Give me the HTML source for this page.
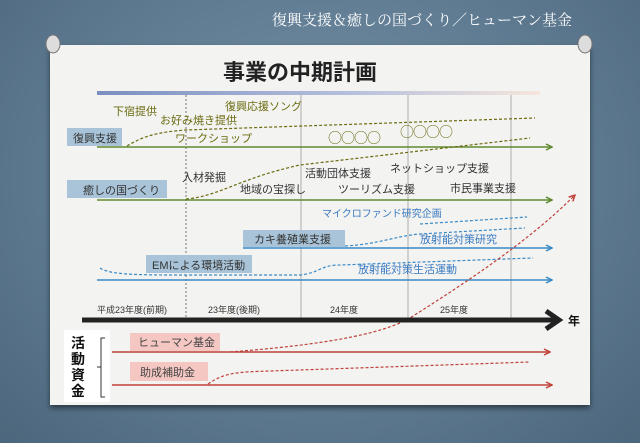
<!DOCTYPE html>
<html><head><meta charset="utf-8"><style>
html,body{margin:0;padding:0;}
body{width:640px;height:443px;overflow:hidden;background:radial-gradient(ellipse at 50% 40%,#7590a6 0%,#5f7b92 55%,#4c667c 100%);}
svg{display:block;font-family:"Liberation Sans","Noto Sans CJK JP",sans-serif;}
</style></head><body>
<svg width="640" height="443" viewBox="0 0 640 443">
<defs>
<linearGradient id="bar" x1="0" x2="1"><stop offset="0" stop-color="#7a8fc0"/><stop offset="0.6" stop-color="#b9c2dd"/><stop offset="1" stop-color="#f6e6dc"/></linearGradient>
<filter id="sh" x="-5%" y="-5%" width="110%" height="115%"><feDropShadow dx="0" dy="3" stdDeviation="3" flood-color="#000" flood-opacity="0.5"/></filter>
<marker id="ag" markerWidth="8" markerHeight="8" refX="7" refY="4" orient="auto" markerUnits="userSpaceOnUse"><path d="M1,1 L7,4 L1,7" fill="none" stroke="#5f8a2e" stroke-width="1.5"/></marker>
<marker id="ab" markerWidth="8" markerHeight="8" refX="7" refY="4" orient="auto" markerUnits="userSpaceOnUse"><path d="M1,1 L7,4 L1,7" fill="none" stroke="#3a8ac6" stroke-width="1.5"/></marker>
<marker id="ar" markerWidth="8" markerHeight="8" refX="7" refY="4" orient="auto" markerUnits="userSpaceOnUse"><path d="M1,1 L7,4 L1,7" fill="none" stroke="#c0413a" stroke-width="1.5"/></marker>
</defs>
<text x="572" y="25" text-anchor="end" font-family="Liberation Serif,'Noto Serif CJK SC',serif" font-size="15" fill="#fff">復興支援＆癒しの国づくり／ヒューマン基金</text>
<rect x="50" y="45" width="540" height="360" fill="#f3f3f2" filter="url(#sh)"/>
<g><ellipse cx="53" cy="44" rx="7" ry="9" fill="#ddd" stroke="#777"/><ellipse cx="585" cy="44" rx="7" ry="9" fill="#ddd" stroke="#777"/></g>
<text x="300" y="80" text-anchor="middle" font-size="22" font-weight="bold" fill="#222">事業の中期計画</text>
<rect x="97" y="91" width="443" height="4" fill="url(#bar)"/>
<line x1="186" y1="95" x2="186" y2="322" stroke="#555" stroke-dasharray="2,2" stroke-width="0.8"/>
<g stroke="#9a9a9a" stroke-width="0.8"><line x1="301" y1="95" x2="301" y2="318"/><line x1="408" y1="95" x2="408" y2="318"/><line x1="511" y1="95" x2="511" y2="318"/></g>
<rect x="67" y="128" width="55" height="18" fill="#a9c4d9"/>
<text x="73" y="142" font-size="11" fill="#333">復興支援</text>
<line x1="97" y1="147" x2="552" y2="147" stroke="#5f8a2e" stroke-width="1.5" marker-end="url(#ag)"/>
<g fill="#6b6b10" font-size="11"><text x="113" y="115">下宿提供</text><text x="160" y="124">お好み焼き提供</text><text x="225" y="110">復興応援ソング</text><text x="175" y="142">ワークショップ</text><text x="328" y="143" font-size="14" font-family="Noto Sans CJK JP,sans-serif" letter-spacing="-1">○○○○</text><text x="400" y="137" font-size="14" font-family="Noto Sans CJK JP,sans-serif" letter-spacing="-1">○○○○</text></g>
<path d="M127,146 C145,135 160,132 186,130 L535,118" fill="none" stroke="#6b6b10" stroke-dasharray="3,2" stroke-width="1.2"/>
<rect x="67" y="180" width="100" height="18" fill="#a9c4d9"/>
<text x="83" y="194" font-size="11" fill="#333">癒しの国づくり</text>
<line x1="97" y1="200" x2="552" y2="200" stroke="#5f8a2e" stroke-width="1.5" marker-end="url(#ag)"/>
<g fill="#333" font-size="11"><text x="182" y="181">入材発掘</text><text x="240" y="193">地域の宝探し</text><text x="305" y="177">活動団体支援</text><text x="390" y="172">ネットショップ支援</text><text x="338" y="193">ツーリズム支援</text><text x="450" y="192">市民事業支援</text></g>
<path d="M186,199 C220,196 240,178 300,165 L530,138" fill="none" stroke="#6b6b10" stroke-dasharray="3,2" stroke-width="1.2"/>
<text x="322" y="217" font-size="10" fill="#3a7ac0">マイクロファンド研究企画</text>
<path d="M420,224 L527,217" fill="none" stroke="#3a8ac6" stroke-dasharray="3,2" stroke-width="1.2"/>
<rect x="243" y="230" width="102" height="17" fill="#a9c4d9"/>
<text x="254" y="243" font-size="11" fill="#333">カキ養殖業支援</text>
<line x1="243" y1="248" x2="552" y2="248" stroke="#3a8ac6" stroke-width="1.5" marker-end="url(#ab)"/>
<path d="M345,246 C380,244 395,236 420,234 L525,228" fill="none" stroke="#3a8ac6" stroke-dasharray="3,2" stroke-width="1.2"/>
<text x="420" y="243" font-size="11" fill="#3a7ac0">放射能対策研究</text>
<rect x="146" y="255" width="106" height="18" fill="#a9c4d9"/>
<text x="152" y="269" font-size="11" fill="#333">EMによる環境活動</text>
<line x1="97" y1="280" x2="552" y2="280" stroke="#3a8ac6" stroke-width="1.5" marker-end="url(#ab)"/>
<path d="M100,268 C110,275 140,275 186,275 L300,275 C320,273 320,265 340,265 L533,258" fill="none" stroke="#3a8ac6" stroke-dasharray="3,2" stroke-width="1.2"/>
<text x="358" y="273" font-size="11" fill="#3a7ac0">放射能対策生活運動</text>
<path d="M230,352 C320,345 380,335 410,318 C470,280 530,240 575,195" fill="none" stroke="#c0413a" stroke-dasharray="3,2" stroke-width="1.2" marker-end="url(#ar)"/>
<g font-size="9" fill="#333"><text x="97" y="313">平成23年度(前期)</text><text x="208" y="313">23年度(後期)</text><text x="330" y="313">24年度</text><text x="440" y="313">25年度</text></g>
<line x1="82" y1="320" x2="555" y2="320" stroke="#222" stroke-width="5"/>
<path d="M546,311 L559,320 L546,329" fill="none" stroke="#222" stroke-width="5" stroke-linejoin="miter"/>
<text x="568" y="325" font-size="12" font-weight="bold" fill="#111">年</text>
<rect x="64" y="330" width="46" height="72" fill="#fff"/>
<g font-size="14" font-weight="bold" fill="#111" text-anchor="middle"><text x="78" y="348">活</text><text x="78" y="364">動</text><text x="78" y="380">資</text><text x="78" y="396">金</text></g>
<path d="M105,338 L101,338 L101,397 L105,397 M101,367 L97,367" fill="none" stroke="#333" stroke-width="1"/>
<rect x="130" y="333" width="90" height="18" fill="#f4c7c3"/>
<text x="138" y="346" font-size="11" fill="#444">ヒューマン基金</text>
<line x1="112" y1="352" x2="550" y2="352" stroke="#c0413a" stroke-width="1.5" marker-end="url(#ar)"/>
<rect x="130" y="362" width="78" height="19" fill="#f4c7c3"/>
<text x="140" y="376" font-size="11" fill="#444">助成補助金</text>
<line x1="112" y1="385" x2="552" y2="385" stroke="#c0413a" stroke-width="1.5" marker-end="url(#ar)"/>
<path d="M208,384 C225,372 240,372 270,371 L530,362" fill="none" stroke="#c0413a" stroke-dasharray="3,2" stroke-width="1.2"/>
</svg>
</body></html>
